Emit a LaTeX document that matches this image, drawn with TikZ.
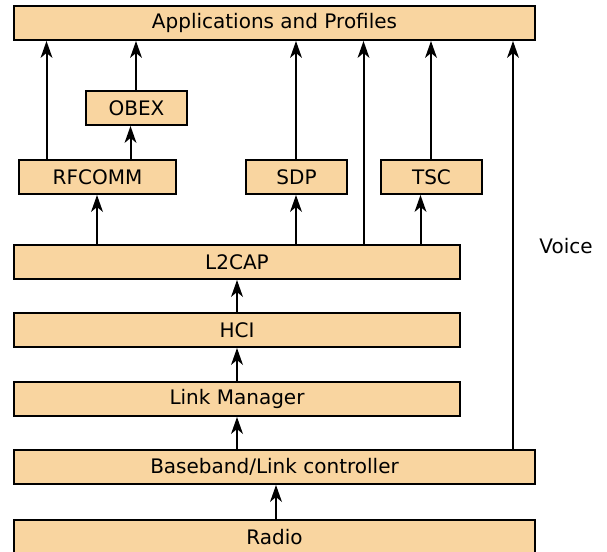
\documentclass[tikz,border=0pt]{standalone}
\usepackage{fontspec}
\setmainfont{DejaVu Sans}
\usetikzlibrary{decorations.markings}
\definecolor{layerfill}{RGB}{249,213,160}
\tikzset{
  layer/.style={draw=black, fill=layerfill, line width=2pt, rectangle,
    minimum height=34pt, inner sep=0pt, font=\fontsize{20}{23}\selectfont},
  % solid stealth-shaped head placed at the end of each link
  flow/.style={line width=2pt, shorten >=6pt,
    postaction={decorate, decoration={markings,
      mark=at position 1 with {\fill[black] (0pt,0pt) -- (-17pt,6pt) -- (-12pt,0pt) -- (-17pt,-6pt) -- cycle;}}}},
}
\begin{document}
\begin{tikzpicture}[x=1pt, y=-1pt]
  \useasboundingbox (0,0) rectangle (607,551);
  \clip (0,0) rectangle (607,551);

  % protocol layers
  \node[layer, minimum width=521pt] (apps)   at (274.5,23)  {Applications and Profiles};
  \node[layer, minimum width=101pt] (obex)   at (136.5,108) {OBEX};
  \node[layer, minimum width=157pt] (rfcomm) at (97.5,177)  {RFCOMM};
  \node[layer, minimum width=101pt] (sdp)    at (296.5,177) {SDP};
  \node[layer, minimum width=101pt] (tsc)    at (431.5,177) {TSC};
  \node[layer, minimum width=446pt] (l2cap)  at (237,262)   {L2CAP};
  \node[layer, minimum width=446pt] (hci)    at (237,330)   {HCI};
  \node[layer, minimum width=446pt] (lm)     at (237,399)   {Link Manager};
  \node[layer, minimum width=521pt] (bb)     at (274.5,467) {Baseband/Link controller};
  \node[layer, minimum width=521pt] (radio)  at (274.5,537) {Radio};

  \node[font=\fontsize{20}{23}\selectfont] (voice) at (566,246) {Voice};

  % x positions of the vertical links
  \coordinate (xa) at (46.5,0);
  \coordinate (xb) at (136,0);
  \coordinate (xc) at (130.5,0);
  \coordinate (xd) at (97,0);
  \coordinate (xe) at (296,0);
  \coordinate (xf) at (363.5,0);
  \coordinate (xg) at (431,0);
  \coordinate (xh) at (420.5,0);
  \coordinate (xi) at (513,0);
  \coordinate (xj) at (237,0);
  \coordinate (xk) at (276,0);

  % links between layers
  \draw[flow] (rfcomm.north -| xa) -- (apps.south -| xa);
  \draw[flow] (obex.north -| xb)   -- (apps.south -| xb);
  \draw[flow] (rfcomm.north -| xc) -- (obex.south -| xc);
  \draw[flow] (sdp.north -| xe)    -- (apps.south -| xe);
  \draw[flow] (tsc.north -| xg)    -- (apps.south -| xg);
  \draw[flow] (l2cap.north -| xf)  -- (apps.south -| xf);
  \draw[flow] (l2cap.north -| xd)  -- (rfcomm.south -| xd);
  \draw[flow] (l2cap.north -| xe)  -- (sdp.south -| xe);
  \draw[flow] (l2cap.north -| xh)  -- (tsc.south -| xh);
  \draw[flow] (hci.north -| xj)    -- (l2cap.south -| xj);
  \draw[flow] (lm.north -| xj)     -- (hci.south -| xj);
  \draw[flow] (bb.north -| xj)     -- (lm.south -| xj);
  \draw[flow] (radio.north -| xk)  -- (bb.south -| xk);
  \draw[flow] (bb.north -| xi)     -- (apps.south -| xi);
\end{tikzpicture}
\end{document}
